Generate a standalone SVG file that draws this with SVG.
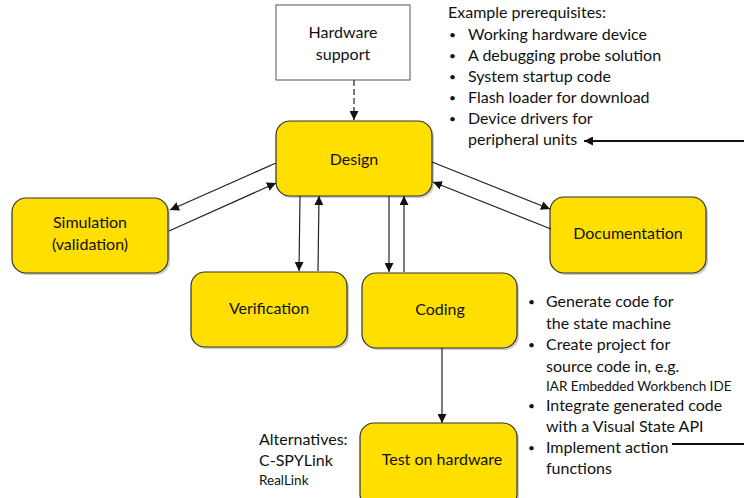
<svg xmlns="http://www.w3.org/2000/svg" width="744" height="498" viewBox="0 0 744 498">
<style>
text{font-family:Lato,"Open Sans","Liberation Sans",sans-serif;font-size:16px;fill:#111}
.c{text-anchor:middle}
.s{font-size:13.5px}
.b{font-size:12px}
.node{fill:#FFDF00;stroke:#333;stroke-width:1.2}
.sh{fill:#999;opacity:0.5}
.ln{stroke:#222;stroke-width:1.2;fill:none}
</style>
<defs>
<marker id="ah" viewBox="0 0 10 10" refX="10" refY="5" markerWidth="9" markerHeight="9" markerUnits="userSpaceOnUse" orient="auto">
<path d="M0,0 L10,5 L0,10 z" fill="#111"/>
</marker>
</defs>
<g id="hardware-support">
<rect x="276" y="5" width="134" height="75" fill="#fff" stroke="#555" stroke-width="1"/>
<text class="c" x="343" y="38">Hardware</text>
<text class="c" x="343" y="60">support</text>
</g>
<g id="design">
<rect class="sh" x="278" y="123" width="156" height="75" rx="14"/>
<rect class="node" x="276" y="121" width="156" height="75" rx="14"/>
<text class="c" x="354" y="165">Design</text>
</g>
<g id="simulation">
<rect class="sh" x="14" y="200" width="156" height="75" rx="14"/>
<rect class="node" x="12" y="198" width="156" height="75" rx="14"/>
<text class="c" x="90" y="228">Simulation</text>
<text class="c" x="90" y="250">(validation)</text>
</g>
<g id="verification">
<rect class="sh" x="193" y="274" width="156" height="75" rx="14"/>
<rect class="node" x="191" y="272" width="156" height="75" rx="14"/>
<text class="c" x="269" y="314">Verification</text>
</g>
<g id="coding">
<rect class="sh" x="364" y="275" width="155" height="75" rx="14"/>
<rect class="node" x="362" y="273" width="155" height="75" rx="14"/>
<text class="c" x="440" y="315">Coding</text>
</g>
<g id="documentation">
<rect class="sh" x="552" y="199" width="156" height="76" rx="14"/>
<rect class="node" x="550" y="197" width="156" height="76" rx="14"/>
<text class="c" x="628" y="239">Documentation</text>
</g>
<g id="test-on-hardware">
<rect class="sh" x="362" y="425" width="157" height="85" rx="14"/>
<rect class="node" x="360" y="423" width="157" height="85" rx="14"/>
<text class="c" x="442" y="465">Test on hardware</text>
</g>
<g id="connectors">
<line class="ln" x1="354" y1="80" x2="354" y2="120" stroke-dasharray="6,3" marker-end="url(#ah)"/>
<line class="ln" x1="276" y1="163" x2="170" y2="210" marker-end="url(#ah)"/>
<line class="ln" x1="169" y1="231" x2="276" y2="183" marker-end="url(#ah)"/>
<line class="ln" x1="300" y1="196" x2="299" y2="271" marker-end="url(#ah)"/>
<line class="ln" x1="318" y1="271" x2="319" y2="196" marker-end="url(#ah)"/>
<line class="ln" x1="389" y1="196" x2="389" y2="272" marker-end="url(#ah)"/>
<line class="ln" x1="404" y1="272" x2="404" y2="196" marker-end="url(#ah)"/>
<line class="ln" x1="432" y1="162" x2="550" y2="209" marker-end="url(#ah)"/>
<line class="ln" x1="551" y1="229" x2="433" y2="182" marker-end="url(#ah)"/>
<line class="ln" x1="442" y1="348" x2="442" y2="423" marker-end="url(#ah)"/>
<line x1="744" y1="141" x2="584" y2="141" stroke="#111" stroke-width="2" marker-end="url(#ah)"/>
<line x1="672" y1="444" x2="744" y2="444" stroke="#111" stroke-width="2"/>
</g>
<g id="prerequisites">
<text x="448" y="18">Example prerequisites:</text>
<text class="b" x="449" y="39">•</text><text x="468" y="40">Working hardware device</text>
<text class="b" x="449" y="60">•</text><text x="468" y="61">A debugging probe solution</text>
<text class="b" x="449" y="81">•</text><text x="468" y="82">System startup  code</text>
<text class="b" x="449" y="102">•</text><text x="468" y="103">Flash loader for  download</text>
<text class="b" x="449" y="123">•</text><text x="468" y="124">Device drivers for</text>
<text x="468" y="145">peripheral units</text>
</g>
<g id="coding-notes">
<text class="b" x="528" y="306">•</text><text x="546" y="307">Generate code for</text>
<text x="546" y="329">the state machine</text>
<text class="b" x="528" y="349">•</text><text x="546" y="350">Create project for</text>
<text x="546" y="372">source code in, e.g.</text>
<text class="s" x="546" y="391">IAR Embedded Workbench IDE</text>
<text class="b" x="528" y="410">•</text><text x="546" y="411">Integrate generated code</text>
<text x="546" y="432">with a Visual State API</text>
<text class="b" x="528" y="452">•</text><text x="546" y="453">Implement action</text>
<text x="546" y="474">functions</text>
</g>
<g id="alternatives">
<text x="259" y="445">Alternatives:</text>
<text x="259" y="466">C-SPYLink</text>
<text class="s" x="259" y="485">RealLink</text>
</g>
</svg>
